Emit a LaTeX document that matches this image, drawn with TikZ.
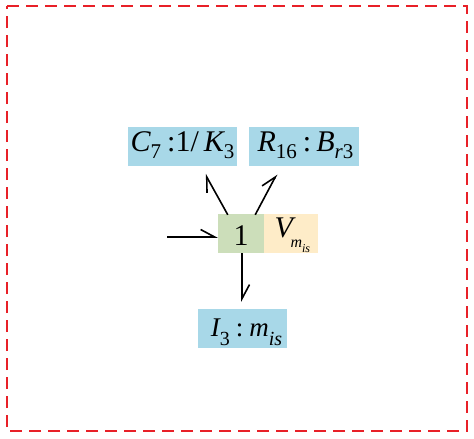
\documentclass[tikz,border=0pt]{standalone}
\usepackage{fontspec}
\setmainfont{Liberation Serif}
\usetikzlibrary{arrows.meta,calc}
\definecolor{boxblue}{RGB}{168,216,232}
\definecolor{boxgreen}{RGB}{204,222,186}
\definecolor{boxyellow}{RGB}{254,236,200}
\definecolor{framered}{RGB}{232,32,40}
\newcommand{\lsub}[1]{\raisebox{-7pt}{\fontsize{21}{21}\selectfont #1}}
\newcommand{\isub}[1]{\raisebox{-9pt}{\fontsize{20}{20}\selectfont #1}}
\newcommand{\ssub}[1]{\raisebox{-5pt}{\fontsize{12}{12}\selectfont #1}}
\tikzset{
  elem/.style={fill=boxblue, inner sep=0pt, minimum height=39pt, text height=24pt, text depth=15pt, font=\fontsize{30}{30}\selectfont},
  junc/.style={fill=boxgreen, inner sep=0pt, minimum height=39pt, minimum width=46pt, text height=31pt, text depth=8pt, font=\fontsize{30}{30}\selectfont},
  flow/.style={fill=boxyellow, inner sep=0pt, minimum height=39pt, minimum width=54pt, text height=23pt, text depth=16pt, font=\fontsize{30}{30}\selectfont},
  bond/.style={line width=1.6pt, -{Straight Barb[left, length=14pt, width=15pt, line width=1.6pt]}},
}
\begin{document}
\begin{tikzpicture}[x=1pt, y=-1pt]
\useasboundingbox (0,0) rectangle (474,439);
\draw[framered, line width=2.2pt, dash pattern=on 12pt off 7pt] (7,6) -- (467,6) -- (467,431) -- (7,431) -- cycle;
\node[elem, minimum width=109pt] (c7) at (182.5,146.5) {\itshape C\lsub{\upshape 7}\hspace{6pt}\upshape :1/\hspace{5pt}\itshape K\lsub{\upshape 3}};
\node[elem, minimum width=110pt] (r16) at (304,146.5) {\hspace{3pt}\itshape R\lsub{\upshape 16}\hspace{6pt}\upshape :\hspace{5pt}\itshape B\lsub{r\upshape 3}};
\node[junc] (one) at (241,233.5) {1};
\node[flow, anchor=west] (vm) at (one.east) {\hspace{2pt}\itshape V\hspace{-0.08em}\raisebox{-10pt}{\fontsize{16}{16}\selectfont\itshape m\ssub{is}}};
\node[elem, minimum width=89pt, text height=27pt, text depth=12pt, font=\fontsize{27}{27}\selectfont] (i3) at (242.5,328.5) {\hspace{8pt}\itshape I\isub{\upshape 3}\hspace{6pt}\upshape :\hspace{6pt}\itshape m\isub{is}};
\coordinate (in) at (167,237);
\draw[bond] (in) -- (in -| one.west);
\draw[bond] ($(one.north west)+(10,1)$) -- ($(c7.south east)+(-32,8)$);
\draw[bond] ($(one.north east)+(-9,1)$) -- ($(r16.south west)+(28,8)$);
\draw[bond, shorten >=7pt] ($(one.south)+(1,0)$) -- ($(i3.north)+(-0.5,0)$);
\end{tikzpicture}
\end{document}
